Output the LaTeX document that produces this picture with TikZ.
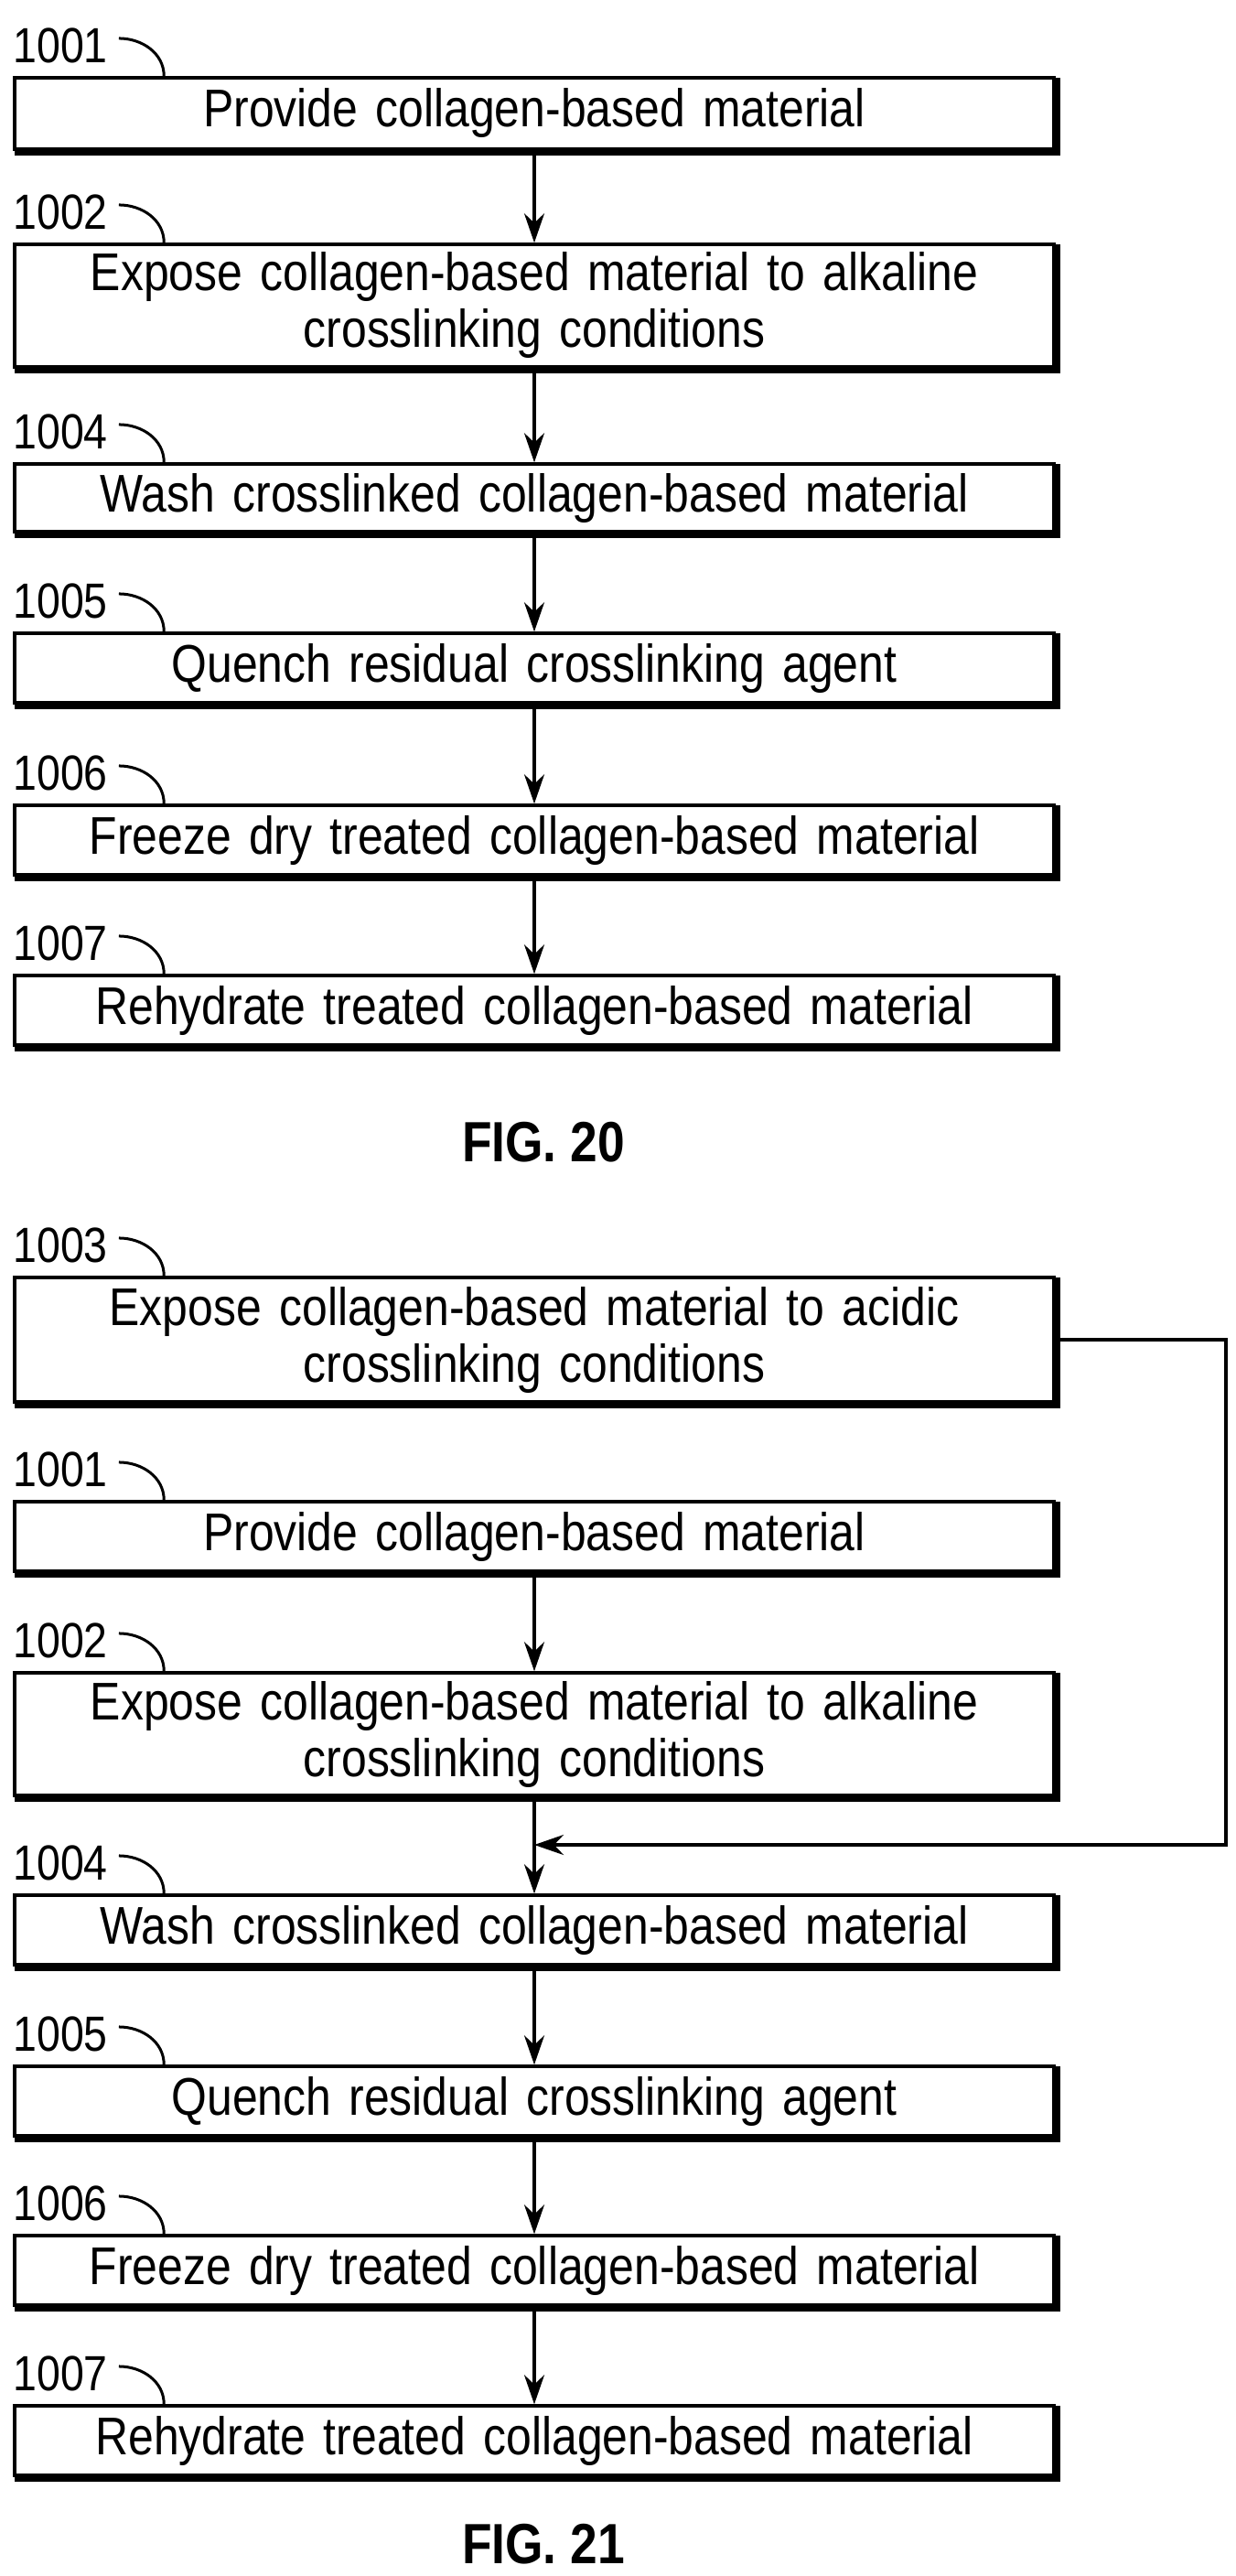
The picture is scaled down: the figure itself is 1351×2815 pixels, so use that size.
\documentclass[tikz,border=0pt]{standalone}
\usepackage{fontspec}
\setmainfont{Liberation Sans}[FakeStretch=0.86]
\usetikzlibrary{arrows.meta,calc}
\tikzset{stepbox/.style={rectangle, draw=black, line width=3.5pt, minimum width=1136pt, text width=1100pt, align=center, font=\fontsize{58}{62}\selectfont},
  reflabel/.style={anchor=south west, inner sep=0pt, font=\fontsize{54}{58}\selectfont},
  arrow/.style={line width=3.5pt,-{Stealth[length=32pt,width=22pt]}},
  hook/.style={line width=3pt},
  figlabel/.style={font=\fontsize{62}{68}\selectfont\bfseries}}

\begin{document}
\begin{tikzpicture}[x=1pt,y=-1pt]
  \useasboundingbox (0,0) rectangle (1351,2815);
  % FIG. 20
  \node[stepbox, minimum height=78pt] (a1) at (584,124) {Provide collagen-based material};
  \node[stepbox, minimum height=134pt] (a2) at (584,334) {Expose collagen-based material to alkaline\\ crosslinking conditions};
  \node[stepbox, minimum height=74pt] (a4) at (584,544) {Wash crosslinked collagen-based material};
  \node[stepbox, minimum height=76pt] (a5) at (584,730) {Quench residual crosslinking agent};
  \node[stepbox, minimum height=76pt] (a6) at (584,918) {Freeze dry treated collagen-based material};
  \node[stepbox, minimum height=76pt] (a7) at (584,1104) {Rehydrate treated collagen-based material};
  \node[figlabel] (fig20) at (594,1248) {FIG. 20};
  \draw[arrow] (a1) -- (a2);
  \draw[arrow] (a2) -- (a4);
  \draw[arrow] (a4) -- (a5);
  \draw[arrow] (a5) -- (a6);
  \draw[arrow] (a6) -- (a7);
  % FIG. 21
  \node[stepbox, minimum height=136pt] (b3) at (584,1464) {Expose collagen-based material to acidic\\ crosslinking conditions};
  \node[stepbox, minimum height=76pt] (b1) at (584,1679) {Provide collagen-based material};
  \node[stepbox, minimum height=134pt] (b2) at (584,1895) {Expose collagen-based material to alkaline\\ crosslinking conditions};
  \node[stepbox, minimum height=76pt] (b4) at (584,2109) {Wash crosslinked collagen-based material};
  \node[stepbox, minimum height=76pt] (b5) at (584,2296) {Quench residual crosslinking agent};
  \node[stepbox, minimum height=76pt] (b6) at (584,2481) {Freeze dry treated collagen-based material};
  \node[stepbox, minimum height=76pt] (b7) at (584,2667) {Rehydrate treated collagen-based material};
  \node[figlabel] (fig21) at (594,2780) {FIG. 21};
  \coordinate (merge) at (584,2016);
  \draw[arrow] (b1) -- (b2);
  \draw[arrow] (b2) -- (b4);
  \draw[arrow] (b4) -- (b5);
  \draw[arrow] (b5) -- (b6);
  \draw[arrow] (b6) -- (b7);
  \draw[arrow] (b3.east) -- (1340,1464) -- (1340,2016) -- (merge);
  % reference numerals
  \foreach \bx/\num in {a1/1001,a2/1002,a4/1004,a5/1005,a6/1006,a7/1007,b3/1003,b1/1001,b2/1002,b4/1004,b5/1005,b6/1006,b7/1007} {
    \node[reflabel] (lbl\bx) at ($(\bx.north west)+(0,-14)$) {\num};
    \draw[hook] ($(lbl\bx.east)+(12,-8)$) to[out=0,in=90] ($(\bx.north west)+(165,0)$);
    \draw[line width=6pt] ($(\bx.south west)+(2,2)$) -- ($(\bx.south east)+(2,2)$) -- ($(\bx.north east)+(2,2)$);
  }
\end{tikzpicture}
\end{document}
